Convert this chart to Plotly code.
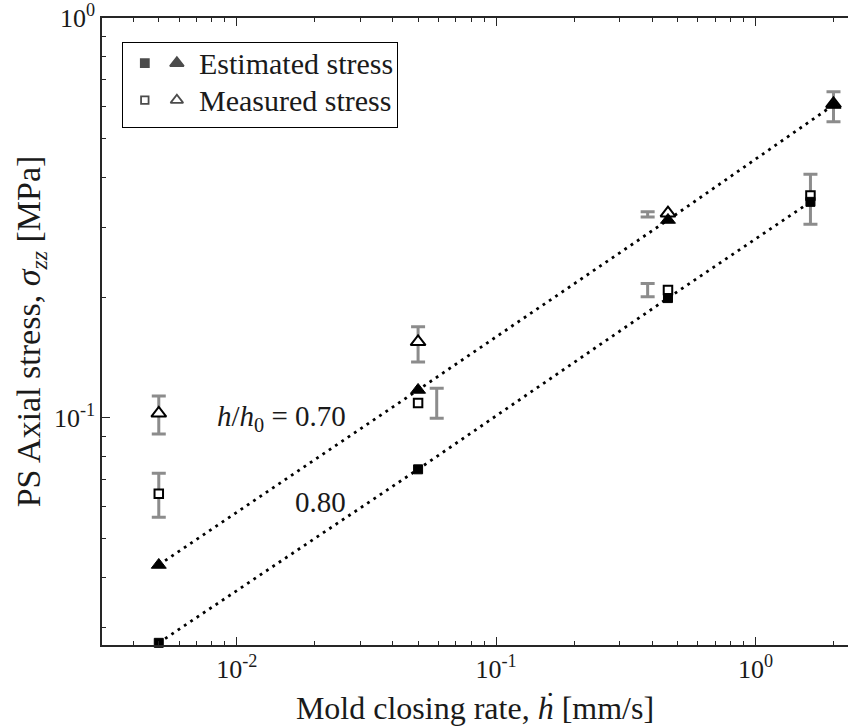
import numpy as np
import plotly.graph_objects as go

# ---------------- data ----------------
rate_070 = [0.005, 0.05, 0.46, 2.0]
est_070 = [0.0429, 0.1175, 0.3126, 0.606]
meas_070 = [0.1027, 0.155, 0.325, 0.61]

rate_080 = [0.005, 0.05, 0.46, 1.63]
est_080 = [0.0274, 0.0744, 0.1994, 0.347]
meas_080 = [0.0646, 0.109, 0.209, 0.36]

# error bars of measured stress (drawn at their own x positions)
err_rate_070 = [0.005, 0.05, 0.384, 2.0]
err_mid_070 = [0.1027, 0.155, 0.323, 0.61]
err_hi_070 = [0.1135, 0.169, 0.328, 0.654]
err_lo_070 = [0.0912, 0.138, 0.318, 0.55]

err_rate_080 = [0.005, 0.059, 0.384, 1.63]
err_mid_080 = [0.0646, 0.109, 0.209, 0.36]
err_hi_080 = [0.0727, 0.1186, 0.217, 0.407]
err_lo_080 = [0.0565, 0.0998, 0.201, 0.305]

x_tickvals = [0.01, 0.1, 1]
x_ticktext = ["10<sup>-2</sup>", "10<sup>-1</sup>", "10<sup>0</sup>"]
y_tickvals = [0.1, 1]
y_ticktext = ["10<sup>-1</sup>", "10<sup>0</sup>"]

legend_labels = ["Estimated stress", "Measured stress"]

# --------------- styling --------------
FONT = "Liberation Serif, Times New Roman, Times, serif"
INK = "#1a1a1a"
GRAY = "rgb(140,140,140)"

fig = go.Figure()

def errbars(x, mid, hi, lo):
    plus = [h - m for h, m in zip(hi, mid)]
    minus = [m - l for m, l in zip(mid, lo)]
    fig.add_trace(go.Scatter(
        x=x, y=mid, mode="markers",
        marker=dict(size=1, color="rgba(0,0,0,0)"),
        error_y=dict(type="data", symmetric=False, array=plus, arrayminus=minus,
                     color=GRAY, thickness=3, width=7),
        showlegend=False, hoverinfo="skip", cliponaxis=False))

errbars(err_rate_070, err_mid_070, err_hi_070, err_lo_070)
errbars(err_rate_080, err_mid_080, err_hi_080, err_lo_080)

# dotted trend lines through the estimated points
for xs, ys in [(rate_070, est_070), (rate_080, est_080)]:
    fig.add_trace(go.Scatter(x=xs, y=ys, mode="lines",
                             line=dict(color="black", width=2.8, dash="2.8px,4.8px"),
                             showlegend=False, hoverinfo="skip"))

# measured (open) markers
fig.add_trace(go.Scatter(x=rate_070, y=meas_070, mode="markers",
                         marker=dict(symbol="triangle-up", size=13, color="white",
                                     line=dict(color="black", width=2)),
                         showlegend=False, cliponaxis=False))
fig.add_trace(go.Scatter(x=rate_080, y=meas_080, mode="markers",
                         marker=dict(symbol="square", size=8.5, color="white",
                                     line=dict(color="black", width=2)),
                         showlegend=False, cliponaxis=False))
# estimated (filled) markers
fig.add_trace(go.Scatter(x=rate_070, y=est_070, mode="markers",
                         marker=dict(symbol="triangle-up", size=13, color="black",
                                     line=dict(color="black", width=1)),
                         showlegend=False, cliponaxis=False))
fig.add_trace(go.Scatter(x=rate_080, y=est_080, mode="markers",
                         marker=dict(symbol="square", size=9, color="black",
                                     line=dict(color="black", width=1)),
                         showlegend=False, cliponaxis=False))

# ---------- custom legend (two symbols per entry) ----------
leg_rows = [0.76, 0.32]
fig.add_trace(go.Scatter(x=[0.08, 0.08], y=leg_rows, xaxis="x2", yaxis="y2", mode="markers",
                         marker=dict(symbol="square", size=[8, 7.5], color=["black", "white"],
                                     line=dict(color="black", width=1.8)),
                         showlegend=False, hoverinfo="skip"))
fig.add_trace(go.Scatter(x=[0.197, 0.197], y=leg_rows, xaxis="x2", yaxis="y2", mode="markers",
                         marker=dict(symbol="triangle-up", size=[12, 11], color=["black", "white"],
                                     line=dict(color="black", width=1.8)),
                         showlegend=False, hoverinfo="skip"))
for lab, yy in zip(legend_labels, leg_rows):
    fig.add_annotation(x=0.272, y=yy, xref="x2", yref="y2", text=lab, showarrow=False,
                       xanchor="left", yanchor="middle",
                       font=dict(family=FONT, size=30, color=INK))

# h/h0 labels
fig.add_annotation(x=np.log10(0.0268), y=np.log10(0.1), xref="x", yref="y",
                   text="<i>h</i>/<i>h</i><sub>0</sub> = 0.70", showarrow=False,
                   xanchor="right", yanchor="middle",
                   font=dict(family=FONT, size=29, color=INK))
fig.add_annotation(x=np.log10(0.0268), y=np.log10(0.0618), xref="x", yref="y",
                   text="0.80", showarrow=False, xanchor="right", yanchor="middle",
                   font=dict(family=FONT, size=29, color=INK))

x_minor = [k * 10.0**e for e in (-3, -2, -1, 0) for k in range(2, 10)]
y_minor = [k * 10.0**e for e in (-2, -1) for k in range(2, 10)]

axis_common = dict(type="log", showline=True, linecolor="#262626", linewidth=1.5,
                   ticks="inside", ticklen=8, tickwidth=1.3, tickcolor="#262626",
                   showgrid=False, zeroline=False,
                   tickfont=dict(family=FONT, size=26, color=INK))

fig.update_layout(
    width=848, height=726,
    margin=dict(l=102, r=0, t=18, b=81),
    paper_bgcolor="white", plot_bgcolor="white",
    showlegend=False,
    xaxis=dict(**axis_common, range=[-2.52, 0.357], mirror="ticks",
               tickvals=x_tickvals, ticktext=x_ticktext,
               minor=dict(tickvals=x_minor, ticks="inside", ticklen=4, tickwidth=1.2,
                          tickcolor="#262626"),
               title=dict(text="Mold closing rate, <i>ḣ</i> [mm/s]",
                          font=dict(family=FONT, size=32, color=INK), standoff=14)),
    yaxis=dict(**axis_common, range=[np.log10(0.02706), 0], mirror=False,
               tickvals=y_tickvals, ticktext=y_ticktext,
               minor=dict(tickvals=y_minor, ticks="inside", ticklen=4, tickwidth=1.2,
                          tickcolor="#262626"),
               title=dict(text="PS Axial stress, <i>σ</i><sub><i>zz</i></sub> [MPa]",
                          font=dict(family=FONT, size=34, color=INK), standoff=3)),
    xaxis2=dict(domain=[0.028, 0.3954], range=[0, 1], showline=True, mirror=True,
                linecolor="black", linewidth=1.4, showticklabels=False, ticks="",
                showgrid=False, zeroline=False, fixedrange=True, anchor="y2"),
    yaxis2=dict(domain=[0.8262, 0.9601], range=[0, 1], showline=True, mirror=True,
                linecolor="black", linewidth=1.4, showticklabels=False, ticks="",
                showgrid=False, zeroline=False, fixedrange=True, anchor="x2"),
)

fig.write_html("out.html")
